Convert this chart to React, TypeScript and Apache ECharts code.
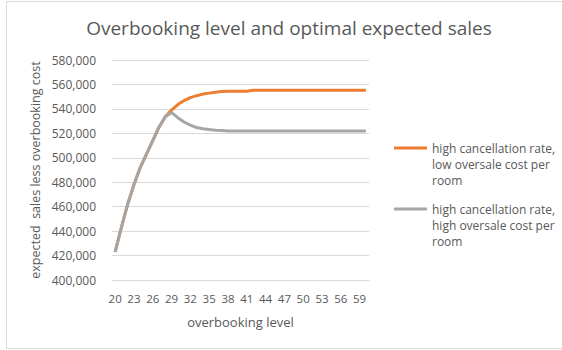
import React, { useEffect, useRef } from "react";
import * as echarts from "echarts";

const categories = [
  "20", "21", "22", "23", "24", "25", "26", "27", "28", "29",
  "30", "31", "32", "33", "34", "35", "36", "37", "38", "39",
  "40", "41", "42", "43", "44", "45", "46", "47", "48", "49",
  "50", "51", "52", "53", "54", "55", "56", "57", "58", "59", "60",
];

const lowOversaleCost = [
  423000, 443000, 462000, 478000, 492000, 503000, 514000, 525000, 533500, 539000,
  543500, 546800, 549200, 550800, 552100, 552900, 553700, 554200, 554500, 554500,
  554500, 554500, 555300, 555300, 555300, 555300, 555300, 555300, 555300, 555300,
  555300, 555300, 555300, 555300, 555300, 555300, 555300, 555300, 555300, 555300, 555300,
];

const highOversaleCost = [
  423000, 443000, 462000, 478000, 492000, 503000, 514000, 525000, 533500, 537000,
  532800, 529300, 526700, 524700, 523700, 523100, 522600, 522300, 522000, 522000,
  522000, 522000, 522000, 522000, 522000, 522000, 522000, 522000, 522000, 522000,
  522000, 522000, 522000, 522000, 522000, 522000, 522000, 522000, 522000, 522000, 522000,
];

const seriesNames = [
  "high cancellation rate,\nlow oversale cost per\nroom",
  "high cancellation rate,\nhigh oversale cost per\nroom",
];

const FONT = "'Open Sans', 'Noto Sans', sans-serif";
const TEXT = "#595959";

export default function App() {
  const ref = useRef<HTMLDivElement>(null);
  useEffect(() => {
    document.body.style.margin = "0";
    const chart = echarts.init(ref.current!, null, { renderer: "svg" });
    const legendText = {
      fontFamily: FONT,
      fontSize: 12,
      color: TEXT,
      lineHeight: 16,
    };
    const legendCommon = {
      orient: "vertical",
      left: 389,
      itemWidth: 33,
      itemHeight: 3,
      icon: "rect",
      textStyle: legendText,
      formatter: (name: string) => "\n\n" + name,
    };
    chart.setOption({
      animation: false,
      backgroundColor: "#ffffff",
      title: {
        text: "Overbooking level and optimal expected sales",
        left: 284,
        textAlign: "center",
        top: 13,
        textStyle: { fontFamily: FONT, fontSize: 19, fontWeight: "normal", color: TEXT },
      },
      graphic: [
        {
          type: "rect",
          shape: { x: 6.5, y: 1.5, width: 600, height: 347 },
          style: { fill: "none", stroke: "#D9D9D9", lineWidth: 1 },
          silent: true,
        },
      ],
      legend: [
        { ...legendCommon, data: [seriesNames[0]], top: 103 },
        { ...legendCommon, data: [seriesNames[1]], top: 164 },
      ],
      grid: { left: 112, top: 60, width: 257, height: 220, containLabel: false },
      xAxis: {
        type: "category",
        data: categories,
        boundaryGap: true,
        name: "overbooking level",
        nameLocation: "middle",
        nameGap: 35,
        nameTextStyle: { fontFamily: FONT, fontSize: 13, color: TEXT },
        axisLine: { show: true, lineStyle: { color: "#D9D9D9" } },
        axisTick: { show: false },
        axisLabel: {
          interval: 2,
          fontFamily: FONT,
          fontSize: 11.5,
          color: TEXT,
          margin: 12,
        },
        splitLine: { show: false },
      },
      yAxis: {
        type: "value",
        min: 400000,
        max: 580000,
        interval: 20000,
        name: "expected  sales less overbooking cost",
        nameLocation: "middle",
        nameGap: 70,
        nameRotate: 90,
        nameTextStyle: { fontFamily: FONT, fontSize: 12.5, color: TEXT },
        axisLine: { show: false },
        axisTick: { show: false },
        axisLabel: {
          fontFamily: FONT,
          fontSize: 12,
          color: TEXT,
          margin: 16,
          formatter: (v: number) => v.toLocaleString("en-US"),
        },
        splitLine: { lineStyle: { color: "#D9D9D9", width: 1 } },
      },
      series: [
        {
          name: seriesNames[0],
          type: "line",
          data: lowOversaleCost,
          showSymbol: false,
          symbol: "none",
          smooth: false,
          lineStyle: { color: "#ED7D31", width: 3 },
          itemStyle: { color: "#ED7D31" },
        },
        {
          name: seriesNames[1],
          type: "line",
          data: highOversaleCost,
          showSymbol: false,
          symbol: "none",
          smooth: false,
          lineStyle: { color: "#A5A5A5", width: 3 },
          itemStyle: { color: "#A5A5A5" },
          z: 3,
        },
      ],
    });
    return () => chart.dispose();
  }, []);
  return <div ref={ref} style={{ width: 562, height: 350 }} />;
}
